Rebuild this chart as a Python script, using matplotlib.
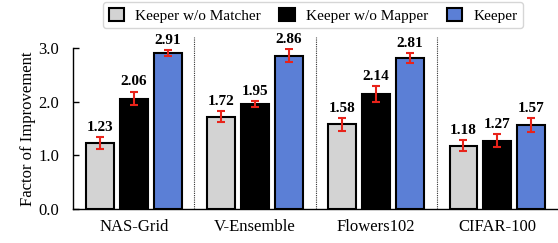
import numpy as np
import matplotlib.pyplot as plt
from matplotlib.patches import Patch

plt.rcParams['font.family'] = ['Liberation Serif', 'DejaVu Serif']

# data
datasets = ['NAS-Grid', 'V-Ensemble', 'Flowers102', 'CIFAR-100']
series = ['Keeper w/o Matcher', 'Keeper w/o Mapper', 'Keeper']
no_matcher = [1.23, 1.72, 1.58, 1.18]
no_mapper = [2.06, 1.95, 2.14, 1.27]
keeper = [2.91, 2.86, 2.81, 1.57]
err_no_matcher = [0.11, 0.10, 0.12, 0.10]
err_no_mapper = [0.13, 0.055, 0.15, 0.12]
err_keeper = [0.06, 0.12, 0.09, 0.13]

colors = ['#d3d3d3', '#000000', '#5b7fd6']
values = [no_matcher, no_mapper, keeper]
errors = [err_no_matcher, err_no_mapper, err_keeper]

fig = plt.figure(figsize=(5.58, 2.43), dpi=100)
ax = fig.add_axes([0.131, 0.14, 0.869, 0.662])

x = np.arange(len(datasets))
width = 0.23
offset = 0.28

for k in range(3):
    xs = x + (k - 1) * offset
    ax.bar(xs, values[k], width, color=colors[k], edgecolor='black', linewidth=1.5,
           zorder=2)
    ax.errorbar(xs, values[k], yerr=errors[k], fmt='none', ecolor='#e8231a',
                elinewidth=1.5, capsize=3, capthick=1.5, zorder=3)
    for xi, v, e in zip(xs, values[k], errors[k]):
        ax.text(xi, v + e + 0.06, f'{v:.2f}', ha='center', va='bottom',
                fontsize=11, fontweight='bold', clip_on=False)

# dotted separators between groups
for s in x[:-1] + 0.5:
    ax.plot([s, s], [0, 3.2], color='#333333', linestyle=(0, (1, 1)), linewidth=0.8,
            clip_on=False, zorder=1)

ax.set_xlim(-0.5, 3.5)
ax.set_ylim(0, 3.0)
ax.set_yticks([0, 1, 2, 3])
ax.set_yticklabels(['0.0', '1.0', '2.0', '3.0'], fontsize=12)
ax.set_xticks(x)
ax.set_xticklabels(datasets, fontsize=12)
ax.tick_params(axis='x', length=0, pad=7)
ax.tick_params(axis='y', direction='in', length=4, width=1, pad=10)
ax.set_ylabel('Factor of Improvement', fontsize=12, labelpad=2)
ax.spines['top'].set_visible(False)
ax.spines['right'].set_visible(False)
ax.spines['left'].set_linewidth(1)
ax.spines['bottom'].set_linewidth(1)

handles = [Patch(facecolor=c, edgecolor='black', linewidth=1.5) for c in colors]
fig.legend(handles, series, loc='upper center', bbox_to_anchor=(0.561, 1.0),
           ncol=3, fontsize=11, frameon=True, fancybox=True, edgecolor='#cccccc',
           handlelength=1.0, handleheight=1.0, columnspacing=1.2, borderpad=0.35,
           handletextpad=0.75, borderaxespad=0.15)

fig.savefig('out.png', dpi=100)
